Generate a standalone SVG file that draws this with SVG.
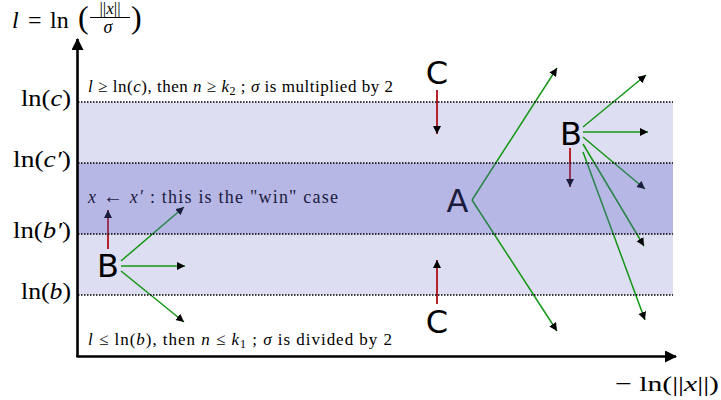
<svg xmlns="http://www.w3.org/2000/svg" width="721" height="400" viewBox="0 0 721 400">
<style>
.m{font-family:"Liberation Serif","DejaVu Serif",serif;fill:#000}
.i{font-style:italic}
.nd{font-family:"DejaVu Sans",sans-serif;font-size:32px;fill:#000;text-anchor:middle}
.g{stroke:#149614;stroke-width:1.5;fill:none;marker-end:url(#ah)}
.r{stroke:#b5242c;stroke-width:2;fill:none;marker-end:url(#ah)}
.dot{stroke:#000;stroke-width:1.3;stroke-dasharray:1.5 1.5;fill:none}
.ax{stroke:#000;stroke-width:2.6;fill:none}
</style>
<defs>
<marker id="ah" markerWidth="10" markerHeight="10" refX="8" refY="4" orient="auto" markerUnits="userSpaceOnUse"><path d="M0,0 L8,4 L0,8 z" fill="#000"/></marker>
<marker id="axh" markerWidth="14" markerHeight="14" refX="11" refY="6" orient="auto" markerUnits="userSpaceOnUse"><path d="M0,0 L12,6 L0,12 z" fill="#000"/></marker>
</defs>
<rect x="78" y="102" width="595" height="193" fill="#dedef3"/>
<g id="labels">
<text class="m" x="88" y="92" font-size="17" textLength="305" lengthAdjust="spacing"><tspan class="i">l</tspan> ≥ ln(<tspan class="i">c</tspan>), then <tspan class="i">n</tspan> ≥ <tspan class="i">k</tspan><tspan font-size="12" dy="3">2</tspan><tspan dy="-3"> ; </tspan><tspan class="i">σ</tspan> is multiplied by 2</text>
<text class="m" x="88" y="203" font-size="18" textLength="250" lengthAdjust="spacing"><tspan class="i">x</tspan> <tspan font-size="20">←</tspan> <tspan class="i">x′</tspan> : this is the "win" case</text>
<text class="m" x="88" y="345" font-size="17" textLength="304" lengthAdjust="spacing"><tspan class="i">l</tspan> ≤ ln(<tspan class="i">b</tspan>), then <tspan class="i">n</tspan> ≤ <tspan class="i">k</tspan><tspan font-size="12" dy="3">1</tspan><tspan dy="-3"> ; </tspan><tspan class="i">σ</tspan> is divided by 2</text>
</g>
<g id="connectors">
<line class="r" x1="437" y1="90" x2="437" y2="134"/>
<line class="r" x1="437" y1="304" x2="437" y2="260"/>
<line class="r" x1="108" y1="249" x2="108" y2="210"/>
<line class="r" x1="570" y1="148" x2="570" y2="187"/>
<line class="g" x1="472" y1="200" x2="557" y2="68"/>
<line class="g" x1="472" y1="200" x2="557" y2="331"/>
<line class="g" x1="583" y1="127" x2="646" y2="75"/>
<line class="g" x1="583" y1="132" x2="648" y2="132"/>
<line class="g" x1="583" y1="137" x2="645" y2="189"/>
<line class="g" x1="583" y1="144" x2="644" y2="246"/>
<line class="g" x1="583" y1="152" x2="645" y2="320"/>
<line class="g" x1="121" y1="261" x2="184" y2="207"/>
<line class="g" x1="121" y1="266" x2="185" y2="266"/>
<line class="g" x1="121" y1="271" x2="184" y2="322"/>
</g>
<g id="nodeCtop"><text class="nd" x="437" y="84">C</text></g>
<g id="nodeCbot"><text class="nd" x="437" y="333">C</text></g>
<g id="nodeA"><text class="nd" x="457.5" y="212">A</text></g>
<g id="nodeBright"><text class="nd" x="571" y="145">B</text></g>
<g id="nodeBleft"><text class="nd" x="108" y="277">B</text></g>
<rect x="78" y="163" width="595" height="71" fill="rgb(94,94,200)" fill-opacity="0.3"/>
<g id="grid">
<line class="dot" x1="78" y1="102" x2="673" y2="102"/>
<line class="dot" x1="78" y1="163" x2="673" y2="163"/>
<line class="dot" x1="78" y1="234" x2="673" y2="234"/>
<line class="dot" x1="78" y1="295" x2="673" y2="295"/>
</g>
<g id="axes">
<line class="ax" x1="77.5" y1="357" x2="77.5" y2="39" marker-end="url(#axh)"/>
<line class="ax" x1="76.5" y1="356.5" x2="676" y2="356.5" marker-end="url(#axh)"/>
</g>
<g id="ticks" class="m" font-size="23" text-anchor="end">
<text x="71" y="106" textLength="50" lengthAdjust="spacingAndGlyphs">ln(<tspan class="i">c</tspan>)</text>
<text x="71" y="167" textLength="58" lengthAdjust="spacingAndGlyphs">ln(<tspan class="i">c′</tspan>)</text>
<text x="71" y="238" textLength="58" lengthAdjust="spacingAndGlyphs">ln(<tspan class="i">b′</tspan>)</text>
<text x="71" y="299" textLength="50" lengthAdjust="spacingAndGlyphs">ln(<tspan class="i">b</tspan>)</text>
</g>
<g id="title" class="m">
<text x="12" y="28" font-size="24"><tspan class="i">l</tspan></text>
<text x="28" y="28" font-size="24">=</text>
<text x="50" y="28" font-size="24">ln</text>
<text x="78" y="28" font-size="32">(</text>
<text x="110" y="14" font-size="17" text-anchor="middle">||<tspan class="i">x</tspan>||</text>
<line x1="90" y1="17.5" x2="130" y2="17.5" stroke="#000" stroke-width="1"/>
<text x="108" y="33" font-size="18" text-anchor="middle" class="i">σ</text>
<text x="131" y="28" font-size="32">)</text>
</g>
<g id="xlabel" class="m">
<text x="615" y="391" font-size="22" textLength="104" lengthAdjust="spacingAndGlyphs">− ln(||<tspan class="i">x</tspan>||)</text>
</g>
</svg>
